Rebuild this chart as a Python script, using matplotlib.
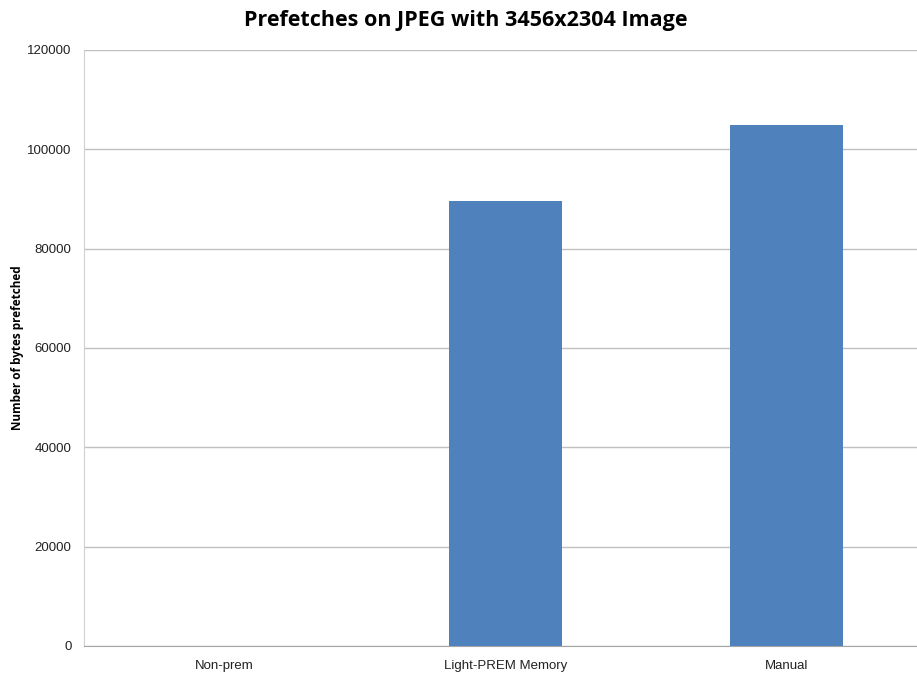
import matplotlib.pyplot as plt

categories = ['Non-prem', 'Light-PREM Memory', 'Manual']
prefetched = [0, 89600, 104800]
yticks = [0, 20000, 40000, 60000, 80000, 100000, 120000]

fig = plt.figure(figsize=(9.17, 6.75), dpi=100)
# plot area runs a little past the right edge of the canvas
ax = fig.add_axes([84 / 917, 29 / 675, 843 / 917, 596 / 675])

x = range(len(categories))
ax.bar(x, prefetched, width=0.4, color='#4f81bd', zorder=3)

ax.set_xlim(-0.5, len(categories) - 0.5)
ax.set_ylim(0, 120000)
ax.set_yticks(yticks)
ax.set_yticklabels([str(t) for t in yticks], fontsize=9.5, family='Liberation Sans', color='#222222')
ax.set_xticks(list(x))
ax.set_xticklabels(categories, fontsize=9.5, family='Liberation Sans', color='#222222')
ax.tick_params(axis='y', length=0, pad=9)
ax.tick_params(axis='x', length=0, pad=10)

ax.yaxis.grid(True, color='#c0c0c0', linewidth=1, zorder=0)
for side in ['top', 'right']:
    ax.spines[side].set_visible(False)
ax.spines['left'].set_color('#d0d0d0')
ax.spines['bottom'].set_color('#a6a6a6')

ax.set_ylabel('Number of bytes prefetched', fontsize=8.5, fontweight='bold', family='Open Sans')
ax.yaxis.set_label_coords(-60 / 843, 0.5)
fig.suptitle('Prefetches on JPEG with 3456x2304 Image', x=0.508, y=0.985,
             fontsize=15.5, fontweight='bold', family='Open Sans')

fig.savefig('out.png', dpi=100)
